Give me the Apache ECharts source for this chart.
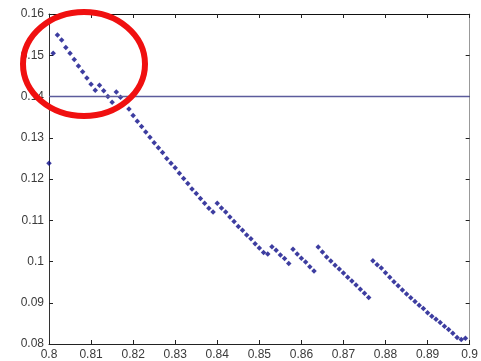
<!DOCTYPE html>
<html>
<head>
<meta charset="utf-8">
<script src="https://cdn.jsdelivr.net/npm/echarts@6/dist/echarts.min.js"></script>
<style>
html, body {
  margin: 0;
  padding: 0;
  background: #fff;
}
#chart {
  width: 481px;
  height: 361px;
}
</style>
</head>
<body>
<div id="chart"></div>
<script>
// sample positions (x) and measured values (y)
const xValues = [
  0.800, 0.801, 0.802, 0.803, 0.804, 0.805, 0.806, 0.807, 0.808, 0.809,
  0.810, 0.811, 0.812, 0.813, 0.814, 0.815, 0.816, 0.817, 0.818, 0.819,
  0.820, 0.821, 0.822, 0.823, 0.824, 0.825, 0.826, 0.827, 0.828, 0.829,
  0.830, 0.831, 0.832, 0.833, 0.834, 0.835, 0.836, 0.837, 0.838, 0.839,
  0.840, 0.841, 0.842, 0.843, 0.844, 0.845, 0.846, 0.847, 0.848, 0.849,
  0.850, 0.851, 0.852, 0.853, 0.854, 0.855, 0.856, 0.857, 0.858, 0.859,
  0.860, 0.861, 0.862, 0.863, 0.864, 0.865, 0.866, 0.867, 0.868, 0.869,
  0.870, 0.871, 0.872, 0.873, 0.874, 0.875, 0.876, 0.877, 0.878, 0.879,
  0.880, 0.881, 0.882, 0.883, 0.884, 0.885, 0.886, 0.887, 0.888, 0.889,
  0.890, 0.891, 0.892, 0.893, 0.894, 0.895, 0.896, 0.897, 0.898, 0.899
]
const yValues = [
  0.1238, 0.1505, 0.1549, 0.1537, 0.1519, 0.1505, 0.1490, 0.1474, 0.1460, 0.1445,
  0.1430, 0.1415, 0.1427, 0.1414, 0.1400, 0.1386, 0.1411, 0.1398, 0.1385, 0.1370,
  0.1354, 0.1340, 0.1327, 0.1314, 0.1301, 0.1288, 0.1276, 0.1264, 0.1250, 0.1238,
  0.1227, 0.1214, 0.1201, 0.1189, 0.1176, 0.1165, 0.1153, 0.1141, 0.1129, 0.1120,
  0.1141, 0.1130, 0.1120, 0.1108, 0.1097, 0.1085, 0.1076, 0.1064, 0.1055, 0.1043,
  0.1033, 0.1022, 0.1018, 0.1036, 0.1027, 0.1016, 0.1007, 0.0995, 0.1030, 0.1018,
  0.1008, 0.0999, 0.0987, 0.0977, 0.1035, 0.1023, 0.1011, 0.1001, 0.0991, 0.0982,
  0.0972, 0.0962, 0.0953, 0.0943, 0.0933, 0.0923, 0.0913, 0.1002, 0.0992, 0.0984,
  0.0973, 0.0962, 0.0951, 0.0941, 0.0931, 0.0921, 0.0912, 0.0903, 0.0894, 0.0886,
  0.0876, 0.0867, 0.0860, 0.0852, 0.0843, 0.0835, 0.0826, 0.0816, 0.0811, 0.0814
]
const threshold = 0.14
const xRange = [0.8, 0.9]
const yRange = [0.08, 0.16]
const tickStep = 0.01

let points = []
for (let i = 0; i < xValues.length; i++) {
  points.push([xValues[i], yValues[i]])
}

const labelStyle = {
  fontFamily: 'Liberation Sans, Arial, sans-serif',
  fontSize: 12,
  color: '#3a3a3a'
}

function makeAxis (position, showLabel, lineColor) {
  return {
    type: 'value',
    position: position,
    min: position === 'top' || position === 'bottom' ? xRange[0] : yRange[0],
    max: position === 'top' || position === 'bottom' ? xRange[1] : yRange[1],
    interval: tickStep,
    axisLine: {show: true, onZero: false, lineStyle: {color: lineColor, width: 1}},
    axisTick: {show: true, inside: true, length: 4, lineStyle: {color: '#222'}},
    axisLabel: Object.assign({show: showLabel, margin: 5}, labelStyle),
    splitLine: {show: false}
  }
}

let option = {
  animation: false,
  backgroundColor: '#fff',
  grid: {
    left: 49,
    top: 14,
    width: 421,
    height: 333
  },
  xAxis: [
    makeAxis('bottom', true, '#222'),
    makeAxis('top', false, '#111')
  ],
  yAxis: [
    makeAxis('left', true, '#333'),
    makeAxis('right', false, '#999')
  ],
  series: [
    {
      type: 'scatter',
      xAxisIndex: 0,
      yAxisIndex: 0,
      data: points,
      symbol: 'diamond',
      symbolSize: 5.5,
      itemStyle: {color: '#0c0c88'},
      markLine: {
        silent: true,
        symbol: 'none',
        label: {show: false},
        lineStyle: {color: '#5c5c9c', width: 1.3, type: 'solid'},
        data: [{yAxis: threshold}]
      }
    }
  ],
  graphic: [
    {
      type: 'ellipse',
      z: 100,
      shape: {cx: 84, cy: 64, rx: 61, ry: 52},
      style: {fill: 'none', stroke: '#f01010', lineWidth: 6}
    }
  ]
}

let chart = echarts.init(document.getElementById('chart'))
chart.setOption(option)
</script>
</body>
</html>
